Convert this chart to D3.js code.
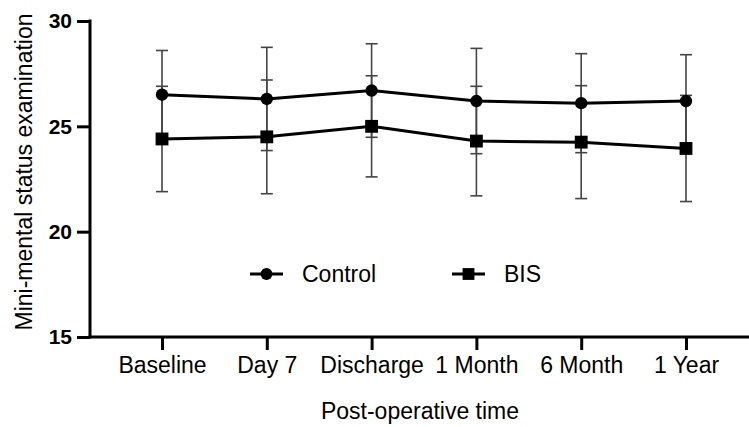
<!DOCTYPE html>
<html>
<head>
<meta charset="utf-8">
<script src="https://cdn.jsdelivr.net/npm/d3@7"></script>
<style>
  body { margin: 0; background: #fff; }
  text { font-family: "Liberation Sans", Arial, sans-serif; }
</style>
</head>
<body>
<svg id="chart" width="749" height="427"></svg>
<script>
const categories = ["Baseline", "Day 7", "Discharge", "1 Month", "6 Month", "1 Year"];
const controlMean = [26.5, 26.3, 26.7, 26.2, 26.1, 26.2];
const controlSD   = [2.1, 2.45, 2.22, 2.5, 2.35, 2.2];
const bisMean     = [24.4, 24.5, 25.0, 24.3, 24.25, 23.95];
const bisSD       = [2.5, 2.7, 2.4, 2.6, 2.68, 2.52];
const yTicks = [15, 20, 25, 30];

const svg = d3.select("#chart");

const x = d3.scalePoint().domain(categories).range([162, 686]);
const y = d3.scaleLinear().domain([15, 30]).range([337, 21]);

const series = [
  {name: "Control", mean: controlMean, sd: controlSD, symbol: d3.symbolCircle, size: 120},
  {name: "BIS", mean: bisMean, sd: bisSD, symbol: d3.symbolSquare, size: 165}
];

// error bars
const eb = svg.append("g")
    .attr("stroke", "#444")
    .attr("stroke-width", 1.6)
    .attr("fill", "none");

series.forEach(s => {
  categories.forEach((c, i) => {
    const cx = x(c), hi = y(s.mean[i] + s.sd[i]), lo = y(s.mean[i] - s.sd[i]);
    eb.append("line").attr("x1", cx).attr("x2", cx).attr("y1", hi).attr("y2", lo);
    eb.append("line").attr("x1", cx - 6).attr("x2", cx + 6).attr("y1", hi).attr("y2", hi);
    eb.append("line").attr("x1", cx - 6).attr("x2", cx + 6).attr("y1", lo).attr("y2", lo);
  });
});

// lines and markers
const line = d3.line()
    .x((d, i) => x(categories[i]))
    .y(d => y(d));

series.forEach(s => {
  svg.append("path")
      .attr("d", line(s.mean))
      .attr("fill", "none")
      .attr("stroke", "#000")
      .attr("stroke-width", 3);

  svg.append("g")
    .selectAll("path")
    .data(s.mean)
    .join("path")
      .attr("transform", (d, i) => `translate(${x(categories[i])},${y(d)})`)
      .attr("d", d3.symbol(s.symbol, s.size))
      .attr("fill", "#000");
});

// y axis
const yAxis = svg.append("g")
    .attr("transform", "translate(90,0)")
    .call(d3.axisLeft(y).tickValues(yTicks).tickSize(13).tickPadding(5));
yAxis.select(".domain").remove();
yAxis.selectAll(".tick line").attr("stroke-width", 3);
yAxis.selectAll(".tick text")
    .attr("font-size", 21)
    .attr("font-weight", "bold")
    .attr("fill", "#000")
    .style("font-family", "'Liberation Sans', Arial, sans-serif");
svg.append("line")
    .attr("x1", 90).attr("x2", 90)
    .attr("y1", y(30) - 1.5).attr("y2", y(15) + 1.5)
    .attr("stroke", "#000").attr("stroke-width", 3);

// x axis
const xAxis = svg.append("g")
    .attr("transform", `translate(0,${y(15)})`)
    .call(d3.axisBottom(x).tickSize(13).tickPadding(7));
xAxis.select(".domain").remove();
xAxis.selectAll(".tick line").attr("stroke-width", 3);
xAxis.selectAll(".tick text")
    .attr("font-size", 23)
    .attr("fill", "#000")
    .style("font-family", "'Liberation Sans', Arial, sans-serif");
svg.append("line")
    .attr("x1", 88.5).attr("x2", 749)
    .attr("y1", y(15)).attr("y2", y(15))
    .attr("stroke", "#000").attr("stroke-width", 3);

// axis titles
svg.append("text")
    .attr("transform", "translate(32,172) rotate(-90)")
    .attr("text-anchor", "middle")
    .attr("font-size", 23)
    .text("Mini-mental status examination");

svg.append("text")
    .attr("x", 420).attr("y", 419)
    .attr("text-anchor", "middle")
    .attr("font-size", 23)
    .text("Post-operative time");

// legend
const legend = [
  {name: "Control", symbol: d3.symbolCircle, size: 110, x0: 250},
  {name: "BIS", symbol: d3.symbolSquare, size: 140, x0: 452}
];
legend.forEach(l => {
  const g = svg.append("g").attr("transform", `translate(${l.x0},274)`);
  g.append("line").attr("x1", 0).attr("x2", 33).attr("stroke", "#000").attr("stroke-width", 3);
  g.append("path").attr("transform", "translate(16.5,0)").attr("d", d3.symbol(l.symbol, l.size)).attr("fill", "#000");
  g.append("text").attr("x", 52).attr("y", 8).attr("font-size", 23).text(l.name);
});
</script>
</body>
</html>
